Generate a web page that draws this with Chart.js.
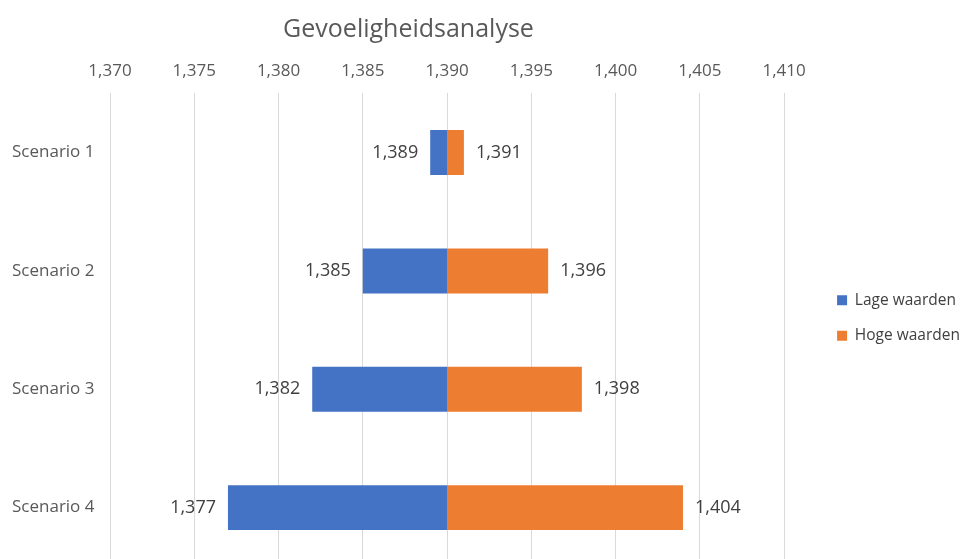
<!DOCTYPE html>
<html lang="nl">
<head>
    <meta charset="UTF-8">
    <title>Gevoeligheidsanalyse</title>
    <script src="https://cdn.jsdelivr.net/npm/chart.js"></script>
    <style>
        html, body {
            margin: 0;
            padding: 0;
            background: white;
            overflow: hidden;
        }
        .chart-container {
            width: 963px;
            height: 580px;
        }
    </style>
</head>
<body>
    <div class="chart-container">
        <canvas id="myChart"></canvas>
    </div>

    <script>
        // scenario data
        const scenarios = ['Scenario 1', 'Scenario 2', 'Scenario 3', 'Scenario 4'];
        const baseValue = 1390;
        const lowValues = [1389, 1385, 1382, 1377];
        const highValues = [1391, 1396, 1398, 1404];
        const seriesNames = ['Lage waarden', 'Hoge waarden'];
        const axisMin = 1370, axisMax = 1410, axisStep = 5;

        const fontFamily = '"Open Sans", "Noto Sans", sans-serif';

        const numFmt = v => v.toLocaleString('en-US');

        // labels next to bar ends
        const endLabels = {
            id: 'endLabels',
            afterDatasetsDraw(chart) {
                const ctx = chart.ctx;
                ctx.save();
                ctx.font = '18px ' + fontFamily;
                ctx.fillStyle = '#404040';
                ctx.textBaseline = 'middle';
                chart.data.datasets.forEach((ds, i) => {
                    const meta = chart.getDatasetMeta(i);
                    meta.data.forEach((bar, j) => {
                        const vals = i === 0 ? lowValues : highValues;
                        const x = chart.scales.x.getPixelForValue(vals[j]);
                        if (i === 0) {
                            ctx.textAlign = 'right';
                            ctx.fillText(numFmt(vals[j]), x - 12, bar.y);
                        } else {
                            ctx.textAlign = 'left';
                            ctx.fillText(numFmt(vals[j]), x + 12, bar.y);
                        }
                    });
                });
                ctx.restore();
            }
        };

        // nudge legend and title like the excel layout
        const boxShift = {
            id: 'boxShift',
            afterLayout(chart) {
                const lg = chart.legend;
                lg.left += 33; lg.right += 33;
                lg.top += 27; lg.bottom += 27;
                const t = chart.titleBlock;
                t.left -= 66; t.right -= 66;
            }
        };

        new Chart(document.getElementById('myChart'), {
            type: 'bar',
            data: {
                labels: scenarios,
                datasets: [
                    {
                        label: seriesNames[0],
                        data: lowValues.map(v => [v, baseValue]),
                        backgroundColor: '#4472C4',
                        grouped: false,
                        categoryPercentage: 1,
                        barPercentage: 0.38
                    },
                    {
                        label: seriesNames[1],
                        data: highValues.map(v => [baseValue, v]),
                        backgroundColor: '#ED7D31',
                        grouped: false,
                        categoryPercentage: 1,
                        barPercentage: 0.38
                    }
                ]
            },
            options: {
                indexAxis: 'y',
                responsive: true,
                maintainAspectRatio: false,
                animation: false,
                layout: {
                    padding: { left: 12, right: 26, top: 8, bottom: 6 }
                },
                scales: {
                    x: {
                        position: 'top',
                        min: axisMin,
                        max: axisMax,
                        ticks: {
                            stepSize: axisStep,
                            color: '#595959',
                            font: { family: fontFamily, size: 17 },
                            padding: 12,
                            callback: v => numFmt(v)
                        },
                        grid: { color: '#d9d9d9', drawTicks: false },
                        border: { display: false }
                    },
                    y: {
                        ticks: {
                            color: '#595959',
                            font: { family: fontFamily, size: 17 },
                            crossAlign: 'far'
                        },
                        grid: { display: false },
                        border: { display: false },
                        afterFit(scale) { scale.width = 98; }
                    }
                },
                plugins: {
                    title: {
                        display: true,
                        text: 'Gevoeligheidsanalyse',
                        color: '#595959',
                        font: { family: fontFamily, size: 25, weight: 'normal' },
                        padding: { top: 7, bottom: 4 }
                    },
                    legend: {
                        position: 'right',
                        labels: {
                            color: '#404040',
                            font: { family: fontFamily, size: 15.5 },
                            boxWidth: 10,
                            boxHeight: 10,
                            padding: 20
                        }
                    },
                    tooltip: { enabled: false }
                }
            },
            plugins: [endLabels, boxShift]
        });
    </script>
</body>
</html>
